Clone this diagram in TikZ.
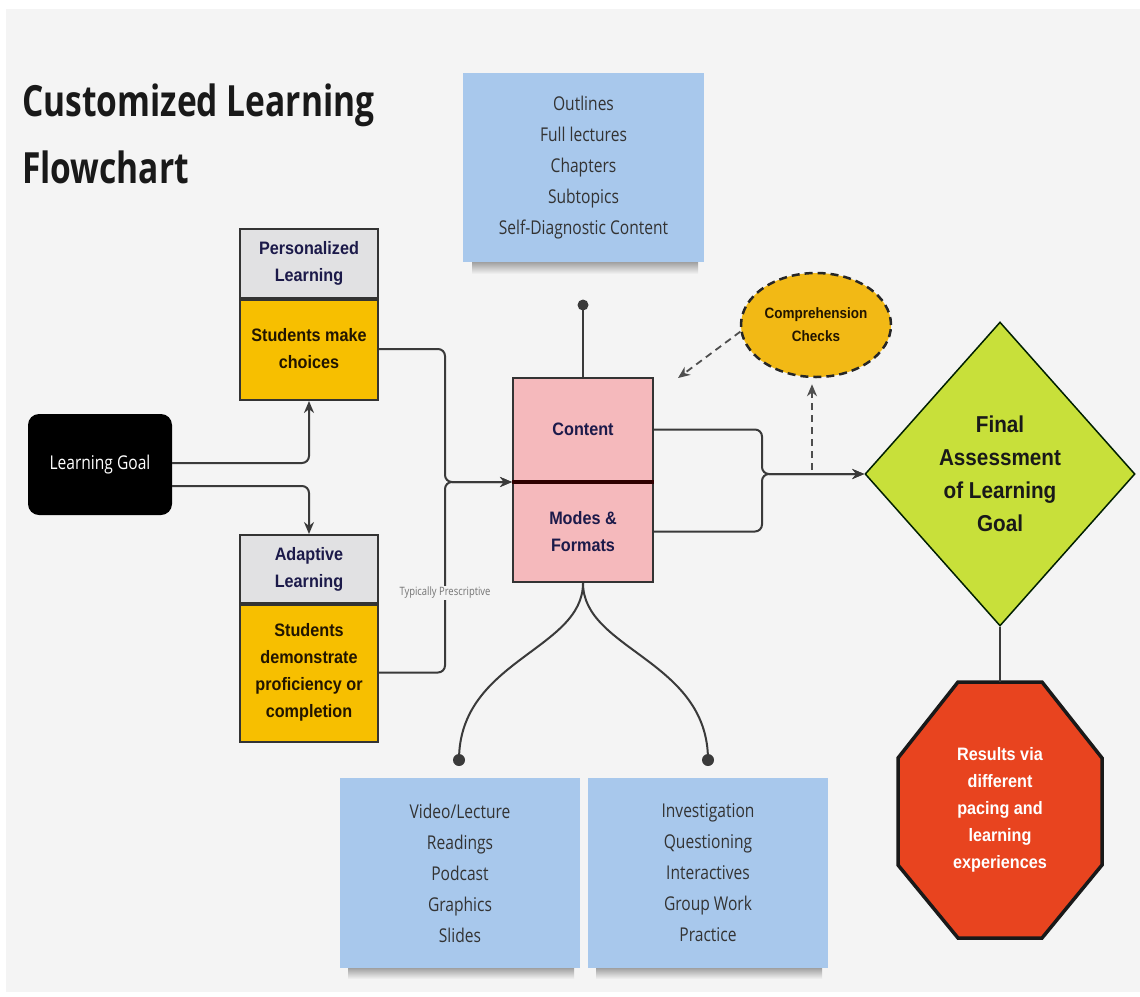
\documentclass[tikz,border=0pt]{standalone}
\usepackage{fontspec}
\usetikzlibrary{shapes.geometric,arrows.meta,calc}
\newfontfamily\titlef[FakeStretch=0.78]{Open Sans}
\newfontfamily\condf[FakeStretch=0.82]{Open Sans}
\newfontfamily\arialb[FakeStretch=0.9]{Liberation Sans}
\definecolor{bgc}{HTML}{F4F4F4}
\definecolor{blueb}{HTML}{A8C8EC}
\definecolor{hdrgray}{HTML}{E1E1E3}
\definecolor{yel}{HTML}{F7BF00}
\definecolor{pinkb}{HTML}{F5B9BC}
\definecolor{ellc}{HTML}{F2B915}
\definecolor{lime}{HTML}{C8E03A}
\definecolor{redo}{HTML}{E8441F}
\definecolor{navy}{HTML}{1C1A4A}
\definecolor{linec}{HTML}{3A3A3A}
\definecolor{boxline}{HTML}{333333}
\definecolor{darkt}{HTML}{221500}
\begin{document}
\begin{tikzpicture}[x=1pt,y=-1pt,
  conn/.style={draw=linec, line width=2pt, -{Stealth[length=12pt,width=10pt]}},
  plain/.style={draw=linec, line width=2pt},
  dashconn/.style={draw=linec!90, line width=1.8pt, dash pattern=on 7pt off 5pt, -{Stealth[length=12pt,width=10pt]}},
  boldtxt/.style={font=\arialb\bfseries\fontsize{18}{27}\selectfont},
  hdr/.style={draw=boxline, line width=2pt, fill=hdrgray, text=navy, boldtxt, align=center, minimum width=138pt, inner sep=0pt},
  body/.style={draw=boxline, line width=2pt, fill=yel, text=darkt, boldtxt, align=center, minimum width=138pt, inner sep=0pt},
  pinkbox/.style={draw=boxline, line width=2pt, fill=pinkb, text=navy, boldtxt, align=center, minimum width=140pt, inner sep=0pt},
  bluebox/.style={fill=blueb, text=black!80, font=\condf\fontsize{19}{31}\selectfont, align=center, inner sep=0pt},
  dot/.style={fill=linec}
]
\useasboundingbox (0,0) rectangle (1140,996);
\fill[white] (0,0) rectangle (1140,996);
\fill[bgc] (6,9) rectangle (1140,992);

% title
\node[anchor=base west, inner sep=0pt, text=black!90, font=\titlef\bfseries\fontsize{43}{50}\selectfont] (t1) at (22,116) {Customized Learning};
\node[anchor=base west, inner sep=0pt, text=black!90, font=\titlef\bfseries\fontsize{43}{50}\selectfont] (t2) at (22,183) {Flowchart};

% shadows
\shade[top color=black!40, bottom color=bgc] (472,261) rectangle (698,274);
\shade[top color=black!40, bottom color=bgc] (348,967) rectangle (574,979);
\shade[top color=black!40, bottom color=bgc] (596,967) rectangle (822,979);

% blue boxes
\node[bluebox, minimum width=241pt, minimum height=189pt] (topb) at (583.5,167.5)
  {Outlines\\Full lectures\\Chapters\\Subtopics\\Self-Diagnostic Content};
\node[bluebox, minimum width=240pt, minimum height=190pt] (bl) at (460,873)
  {Video/Lecture\\Readings\\Podcast\\Graphics\\Slides};
\node[bluebox, minimum width=240pt, minimum height=190pt] (br) at (708,873)
  {Investigation\\Questioning\\Interactives\\Group Work\\Practice};

% learning goal
\node[fill=black, rounded corners=11pt, minimum width=144pt, minimum height=101pt, text=white, font=\condf\fontsize{19}{24}\selectfont] (lg) at (100,464.5) {Learning Goal};

% personalized
\node[hdr, minimum height=69pt] (ph) at (309,263.5) {Personalized\\Learning};
\node[body, minimum height=102pt] (pb) at (309,349) {Students make\\choices};
\draw[draw=boxline, line width=3pt] (ph.south west) -- (ph.south east);

% adaptive
\node[hdr, minimum height=68pt] (ah) at (309,569) {Adaptive\\Learning};
\node[body, minimum height=139pt] (ab) at (309,672.5) {Students\\demonstrate\\proficiency or\\completion};
\draw[draw=boxline, line width=3pt] (ah.south west) -- (ah.south east);

% content / modes
\node[pinkbox, minimum height=103pt] (content) at (583,429.5) {Content};
\node[pinkbox, minimum height=101pt] (modes) at (583,531.5) {Modes \&\\Formats};
\draw[draw=black!70!red!60!black, line width=4pt] (content.south west) -- (content.south east);

% comprehension checks
\node[ellipse, draw=black!85, line width=2.5pt, dash pattern=on 8pt off 5pt, fill=ellc, minimum width=150pt, minimum height=104pt, inner sep=0pt, align=center, text=darkt, font=\arialb\bfseries\fontsize{15}{23}\selectfont] (cc) at (816,325) {Comprehension\\Checks};

% final assessment
\node[diamond, draw=black!70!green!40!black, line width=1.5pt, fill=lime, minimum width=270pt, minimum height=304pt, inner sep=0pt, align=center, text=black!90, font=\arialb\bfseries\fontsize{23}{33}\selectfont] (fa) at (1000,474) {Final\\Assessment\\of Learning\\Goal};

% results octagon
\fill[redo, draw=black!90, line width=3.5pt, line join=miter]
  (958,682) -- (1042,682) -- (1102,758) -- (1102,865) -- (1042,938) -- (958,938) -- (898,865) -- (898,758) -- cycle;
\node[minimum width=204pt, minimum height=256pt, inner sep=0pt, align=center, text=white, font=\arialb\bfseries\fontsize{18}{27}\selectfont] (res) at (1000,810) {Results via\\different\\pacing and\\learning\\experiences};

% coordinates
\coordinate (j1) at (445,482);
\coordinate (j2) at (762,474);
\coordinate (dt) at (583,305);
\coordinate (dl) at (459,760);
\coordinate (dr) at (708,760);
\coordinate (cb) at (812,470);
\coordinate (ct) at (678,378);

% connectors
\draw[conn, rounded corners=7pt] ($(lg.east)+(0,-1.5)$) -| (pb.south);
\draw[conn, rounded corners=7pt] ($(lg.east)+(0,21.5)$) -| (ah.north);
\draw[conn, rounded corners=7pt] (pb.east) -| (j1) -- (j1 -| content.west);
\draw[conn, rounded corners=7pt] (ab.east) -| (j1) -- (j1 -| content.west);
\node[fill=bgc, inner sep=1.5pt, text=black!55, font=\condf\fontsize{11.5}{13}\selectfont] (tp) at (445,593) {Typically Prescriptive};

\draw[conn, rounded corners=7pt] (content.east) -| (j2) -- (fa.west);
\draw[conn, rounded corners=7pt] (modes.east) -| (j2) -- (fa.west);

\draw[plain] (content.north) -- (dt);
\fill[dot] (dt) circle (5.5pt);

\draw[dashconn, shorten >=6pt] (cb) -- (cb |- cc.south);
\draw[dashconn] (cc.185) -- (ct);

\draw[plain] (modes.south) .. controls (583,650) and (459,660) .. (dl);
\draw[plain] (modes.south) .. controls (583,650) and (708,660) .. (dr);
\fill[dot] (dl) circle (6pt);
\fill[dot] (dr) circle (6pt);

\draw[plain] (fa.south) -- (res.north);
\end{tikzpicture}
\end{document}
